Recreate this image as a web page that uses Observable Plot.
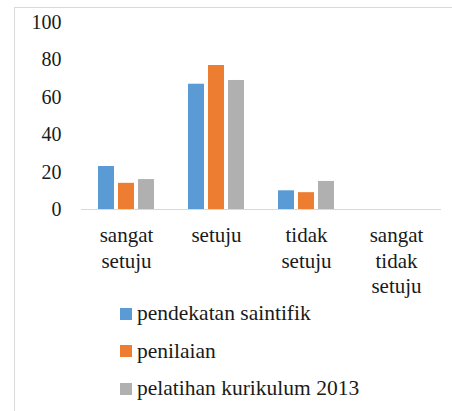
<!DOCTYPE html>
<html>
<head>
<meta charset="utf-8">
<script src="https://cdn.jsdelivr.net/npm/d3@7"></script>
<script src="https://cdn.jsdelivr.net/npm/@observablehq/plot@0.6"></script>
<style>
  html, body { margin: 0; padding: 0; background: #fff; }
  body { width: 452px; height: 411px; position: relative; overflow: hidden; font-family: "Liberation Serif", Tinos, Times, "DejaVu Serif", serif; }
  #frame { position: absolute; left: 14px; top: 7px; width: 460px; height: 420px; border: 1px solid #d9d9d9; box-sizing: border-box; }
  #chart { position: absolute; left: 0; top: 0; }
  #legend { position: absolute; left: 120px; top: 295px; color: #1a1a1a; font-size: 21.5px; }
  .item { height: 37.5px; display: flex; align-items: center; }
  .sw { width: 12px; height: 12px; margin-right: 5px; }
</style>
</head>
<body>
<div id="frame"></div>
<div id="chart"></div>
<div id="legend"></div>
<script>
const categories = ["sangat setuju", "setuju", "tidak setuju", "sangat tidak setuju"];
const categoryLabels = ["sangat\nsetuju", "setuju", "tidak\nsetuju", "sangat\ntidak\nsetuju"];
const series = ["pendekatan saintifik", "penilaian", "pelatihan kurikulum 2013"];
const pendekatanSaintifik = [23, 67, 10, 0];
const penilaian = [14, 77, 9, 0];
const pelatihanKurikulum = [16, 69, 15, 0];
const colors = ["#5b9bd5", "#ed7d31", "#b0b0b0"];
const yTicks = [0, 20, 40, 60, 80, 100];

const valuesBySeries = [pendekatanSaintifik, penilaian, pelatihanKurikulum];
const data = [];
categories.forEach((c, i) => {
  series.forEach((s, j) => data.push({cat: c, series: s, value: valuesBySeries[j][i]}));
});
const labelOf = new Map(categories.map((c, i) => [c, categoryLabels[i]]));

const fontStack = "'Liberation Serif', Tinos, Times, 'DejaVu Serif', serif";
const chart = Plot.plot({
  width: 452,
  height: 300,
  marginLeft: 81,
  marginRight: 11,
  marginTop: 22,
  marginBottom: 91,
  style: {fontFamily: fontStack, color: "#1a1a1a", background: "transparent"},
  fx: {domain: categories, padding: 0, label: null},
  x: {domain: series, paddingInner: 0.2, paddingOuter: 0.85, axis: null},
  y: {domain: [0, 100], label: null},
  color: {domain: series, range: colors},
  marks: [
    Plot.axisY({ticks: yTicks, tickSize: 0, tickPadding: 20, fontSize: 20, label: null}),
    Plot.axisFx({anchor: "bottom", tickSize: 0, tickPadding: 15, fontSize: 21, lineHeight: 1.2, tickFormat: c => labelOf.get(c), label: null}),
    Plot.ruleY([0], {stroke: "#d9d9d9", strokeWidth: 1}),
    Plot.barY(data, {fx: "cat", x: "series", y: "value", fill: "series"})
  ]
});
document.getElementById("chart").appendChild(chart);

const legend = document.getElementById("legend");
series.forEach((s, j) => {
  const item = document.createElement("div");
  item.className = "item";
  const sw = document.createElement("span");
  sw.className = "sw";
  sw.style.background = colors[j];
  const t = document.createElement("span");
  t.textContent = s;
  item.appendChild(sw);
  item.appendChild(t);
  legend.appendChild(item);
});
</script>
</body>
</html>
